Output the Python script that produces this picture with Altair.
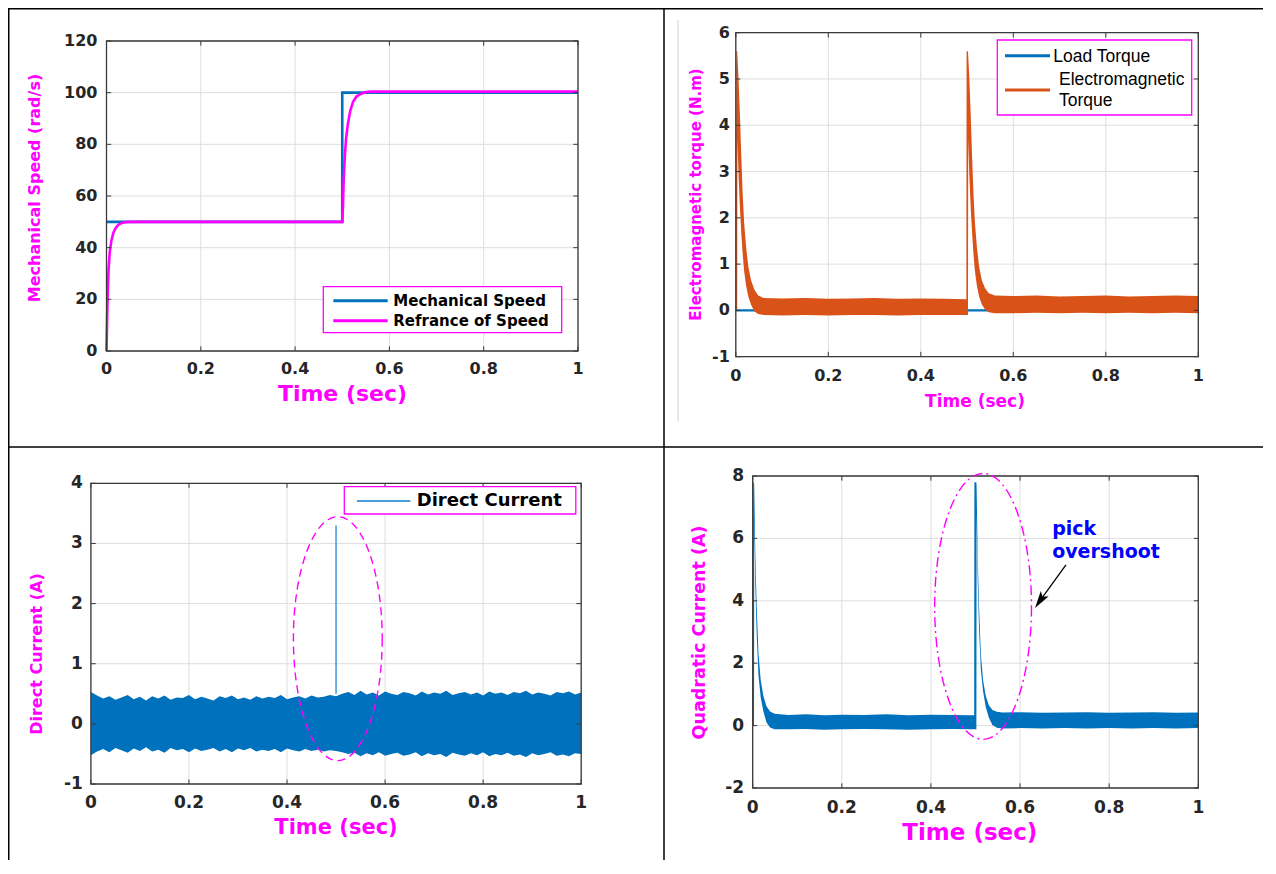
import altair as alt
import pandas as pd

# ---------------------------------------------------------------- canvas
W, H = 1255, 852
FONT = "DejaVu Sans"
LEGFONT = "Liberation Sans"
MAG = "#FF00FF"
BLUE = "#0072BD"
ORANGE = "#D95319"
LIGHTBLUE = "#4C9ED9"
GRID = "#DEDEDE"
FRAME = "#3A3A3A"
LAB = "#262626"
NOTE = "#0000FF"

# ---------------------------------------------------------------- data
time_ticks = [0, 0.2, 0.4, 0.6, 0.8, 1]
time_labels = ["0", "0.2", "0.4", "0.6", "0.8", "1"]

# Panel 1 : speed
p1_ticks = [0, 20, 40, 60, 80, 100, 120]
p1_tick_labels = ["0", "20", "40", "60", "80", "100", "120"]
p1_mech_t = [0.0, 0.5, 0.5, 1.0]
p1_mech_v = [50, 50, 100, 100]
p1_ref_t = [0, 0.0015, 0.003, 0.0045, 0.007, 0.0107, 0.015, 0.02, 0.025, 0.03,
            0.04, 0.05, 0.06, 0.5, 0.5015, 0.503, 0.505, 0.508, 0.512, 0.517,
            0.523, 0.53, 0.54, 0.55, 0.56, 1.0]
p1_ref_v = [0, 14, 25, 32, 38.5, 43, 46, 47.8, 48.8, 49.4,
            49.9, 50, 50, 50, 56, 66, 74, 82, 88, 93,
            96.5, 98.5, 99.6, 100.2, 100.4, 100.4]
p1_labels = ["Mechanical Speed", "Refrance of Speed"]

# Panel 2 : torque
p2_ticks = [-1, 0, 1, 2, 3, 4, 5, 6]
p2_tick_labels = ["-1", "0", "1", "2", "3", "4", "5", "6"]
p2_load_t = [0, 1]
p2_load_v = [0, 0]
p2_t = [0.000, 0.001, 0.003, 0.0035, 0.006, 0.009, 0.012, 0.015, 0.018, 0.022,
        0.027, 0.033, 0.040, 0.048, 0.060, 0.100, 0.150, 0.200, 0.250, 0.300,
        0.350, 0.400, 0.450, 0.4985, 0.499, 0.502, 0.5025, 0.505, 0.508, 0.511,
        0.514, 0.517, 0.521, 0.526, 0.532, 0.539, 0.547, 0.560, 0.600, 0.650,
        0.700, 0.750, 0.800, 0.850, 0.900, 0.950, 1.000]
p2_hi = [0.0, 5.6, 5.6, 5.5, 5.0, 4.2, 3.3, 2.5, 1.9, 1.4,
         0.95, 0.65, 0.45, 0.33, 0.27, 0.26, 0.27, 0.25, 0.26, 0.27,
         0.25, 0.26, 0.25, 0.24, 5.6, 5.6, 5.5, 5.0, 4.2, 3.3,
         2.5, 1.9, 1.4, 0.95, 0.65, 0.48, 0.37, 0.32, 0.31, 0.32,
         0.30, 0.31, 0.32, 0.30, 0.31, 0.32, 0.31]
p2_lo = [0.0, 0.0, 0.0, 3.7, 2.9, 2.2, 1.65, 1.2, 0.85, 0.55,
         0.3, 0.12, -0.02, -0.08, -0.1, -0.11, -0.1, -0.11, -0.1, -0.1,
         -0.11, -0.1, -0.1, -0.1, -0.1, -0.1, 3.7, 2.9, 2.2, 1.65,
         1.2, 0.85, 0.55, 0.3, 0.13, 0.02, -0.04, -0.06, -0.06, -0.05,
         -0.06, -0.05, -0.06, -0.05, -0.06, -0.05, -0.06]
p2_labels = ["Load Torque", "Electromagnetic", "Torque"]

# Panel 3 : direct current (envelope of the noisy signal, sampled every 0.0125 s)
p3_ticks = [-1, 0, 1, 2, 3, 4]
p3_tick_labels = ["-1", "0", "1", "2", "3", "4"]
p3_t = [round(i * 0.0125, 4) for i in range(81)]
p3_hi = [0.53, 0.47, 0.42, 0.46, 0.40, 0.44, 0.48, 0.41, 0.45, 0.39,
         0.46, 0.42, 0.47, 0.40, 0.44, 0.43, 0.48, 0.41, 0.45, 0.42,
         0.39, 0.46, 0.43, 0.47, 0.41, 0.44, 0.40, 0.46, 0.42, 0.45,
         0.43, 0.48, 0.41, 0.44, 0.46, 0.42, 0.47, 0.44, 0.45, 0.48,
         0.46, 0.50, 0.53, 0.48, 0.55, 0.49, 0.52, 0.47, 0.54, 0.50,
         0.48, 0.53, 0.51, 0.47, 0.54, 0.49, 0.52, 0.50, 0.55, 0.48,
         0.51, 0.53, 0.49, 0.52, 0.47, 0.54, 0.50, 0.52, 0.48, 0.53,
         0.51, 0.55, 0.49, 0.52, 0.50, 0.47, 0.53, 0.51, 0.54, 0.49, 0.52]
p3_lo = [-0.52, -0.46, -0.42, -0.47, -0.40, -0.44, -0.48, -0.41, -0.45, -0.39,
         -0.46, -0.43, -0.48, -0.40, -0.44, -0.42, -0.47, -0.41, -0.45, -0.43,
         -0.40, -0.46, -0.42, -0.47, -0.41, -0.44, -0.40, -0.46, -0.43, -0.45,
         -0.42, -0.47, -0.41, -0.44, -0.46, -0.42, -0.45, -0.43, -0.46, -0.44,
         -0.45, -0.47, -0.50, -0.48, -0.54, -0.49, -0.52, -0.47, -0.53, -0.50,
         -0.48, -0.53, -0.51, -0.47, -0.54, -0.49, -0.52, -0.50, -0.55, -0.48,
         -0.51, -0.53, -0.49, -0.52, -0.47, -0.54, -0.50, -0.52, -0.48, -0.53,
         -0.51, -0.55, -0.49, -0.52, -0.50, -0.47, -0.53, -0.51, -0.54, -0.49, -0.50]
p3_spike_t = [0.5]
p3_spike_lo = [0.5]
p3_spike_hi = [3.3]
p3_ring_t = [0.5036]
p3_ring_v = [1.416]
p3_labels = ["Direct Current"]

# Panel 4 : quadratic current
p4_ticks = [-2, 0, 2, 4, 6, 8]
p4_tick_labels = ["-2", "0", "2", "4", "6", "8"]
p4_t = [0, 0.001, 0.003, 0.0035, 0.006, 0.009, 0.013, 0.018, 0.024, 0.031,
        0.039, 0.049, 0.08, 0.12, 0.16, 0.2, 0.25, 0.3, 0.35, 0.4,
        0.45, 0.497, 0.4975, 0.502, 0.5025, 0.505, 0.508, 0.512, 0.517, 0.523,
        0.53, 0.538, 0.548, 0.56, 0.6, 0.65, 0.7, 0.75, 0.8, 0.85,
        0.9, 0.95, 1.0]
p4_hi = [0.0, 7.8, 7.8, 7.6, 5.4, 3.8, 2.3, 1.45, 0.95, 0.62,
         0.45, 0.38, 0.34, 0.36, 0.33, 0.35, 0.34, 0.36, 0.33, 0.35,
         0.34, 0.33, 7.8, 7.8, 7.6, 5.4, 3.8, 2.3, 1.45, 0.95,
         0.65, 0.5, 0.44, 0.42, 0.43, 0.41, 0.42, 0.43, 0.41, 0.42,
         0.43, 0.41, 0.42]
p4_lo = [0, 0, 0, 6.6, 4.4, 2.9, 1.6, 0.9, 0.45, 0.1,
         -0.06, -0.12, -0.12, -0.11, -0.13, -0.12, -0.11, -0.12, -0.13, -0.12,
         -0.11, -0.12, -0.12, -0.12, 6.8, 4.6, 3.1, 1.8, 1.1, 0.6,
         0.25, 0.02, -0.07, -0.09, -0.08, -0.09, -0.08, -0.09, -0.08, -0.09,
         -0.08, -0.09, -0.08]
p4_ring_t = [0.517]
p4_ring_v = [3.82]
p4_note_t = [0.672, 0.672]
p4_note_v = [6.30, 5.56]
p4_note_text = ["pick", "overshoot"]
p4_arrow_t = [0.703]
p4_arrow_v = [5.15]
p4_arrow_t2 = [0.6445]
p4_arrow_v2 = [4.0]

axis_titles = {
    "p1x": "Time (sec)", "p1y": "Mechanical Speed (rad/s)",
    "p2x": "Time (sec)", "p2y": "Electromagnetic torque  (N.m)",
    "p3x": "Time (sec)", "p3y": "Direct Current (A)",
    "p4x": "Time (sec)", "p4y": "Quadratic Current (A)",
}

# ---------------------------------------------------------------- shapes
ELLIPSE = ("M0.364,0 C0.364,0.552 0.201,1 0,1 C-0.201,1 -0.364,0.552 -0.364,0 "
           "C-0.364,-0.552 -0.201,-1 0,-1 C0.201,-1 0.364,-0.552 0.364,0 Z")
ARROWHEAD = "M0,-1 L0.55,1 L0,0.55 L-0.55,1 Z"

one = pd.DataFrame({"k": [0]})


def frame(sx, sy, ydom, yvals, ylabels, lsize, xdy, ydx):
    xdom = [0, 1]
    vdf = pd.DataFrame({"v": time_ticks, "lo": ydom[0], "hi": ydom[1]})
    hdf = pd.DataFrame({"v": yvals, "lo": xdom[0], "hi": xdom[1]})
    vgrid = alt.Chart(vdf).mark_rule(color=GRID, strokeWidth=1).encode(
        x=alt.X("v:Q", scale=sx, axis=None),
        y=alt.Y("lo:Q", scale=sy, axis=None), y2="hi:Q")
    hgrid = alt.Chart(hdf).mark_rule(color=GRID, strokeWidth=1).encode(
        y=alt.Y("v:Q", scale=sy, axis=None),
        x=alt.X("lo:Q", scale=sx, axis=None), x2="hi:Q")
    tlx = 0.01 * (xdom[1] - xdom[0])
    tly = 0.015 * (ydom[1] - ydom[0])
    rows = []
    for v in time_ticks:
        rows.append((v, v, ydom[0], ydom[0] + tly))
        rows.append((v, v, ydom[1], ydom[1] - tly))
    for v in yvals:
        rows.append((xdom[0], xdom[0] + tlx, v, v))
        rows.append((xdom[1], xdom[1] - tlx, v, v))
    tdf = pd.DataFrame(rows, columns=["a", "b", "c", "d"])
    ticks = alt.Chart(tdf).mark_rule(color=FRAME, strokeWidth=1).encode(
        x=alt.X("a:Q", scale=sx, axis=None), x2="b:Q",
        y=alt.Y("c:Q", scale=sy, axis=None), y2="d:Q")
    bdf = pd.DataFrame({"x0": [xdom[0]], "x1": [xdom[1]], "y0": [ydom[0]], "y1": [ydom[1]]})
    box = alt.Chart(bdf).mark_rect(filled=False, color=FRAME, strokeWidth=1.3).encode(
        x=alt.X("x0:Q", scale=sx, axis=None), x2="x1:Q",
        y=alt.Y("y0:Q", scale=sy, axis=None), y2="y1:Q")
    # tick labels placed through the panel's scales
    xl = alt.Chart(pd.DataFrame({"v": time_ticks, "s": time_labels, "b": ydom[0]})).mark_text(
        align="center", baseline="middle", dy=xdy, font=FONT, fontWeight="bold",
        fontSize=lsize, color=LAB).encode(
        x=alt.X("v:Q", scale=sx, axis=None), y=alt.Y("b:Q", scale=sy, axis=None), text="s:N")
    yl = alt.Chart(pd.DataFrame({"v": yvals, "s": ylabels, "b": xdom[0]})).mark_text(
        align="right", baseline="middle", dx=-ydx, font=FONT, fontWeight="bold",
        fontSize=lsize, color=LAB).encode(
        x=alt.X("b:Q", scale=sx, axis=None), y=alt.Y("v:Q", scale=sy, axis=None), text="s:N")
    return [vgrid, hgrid], [box, ticks, xl, yl]


def band(t, hi, lo, sx, sy, color):
    df = pd.DataFrame({"t": t, "hi": hi, "lo": lo})
    return alt.Chart(df).mark_area(color=color, opacity=1, interpolate="linear").encode(
        x=alt.X("t:Q", scale=sx, axis=None),
        y=alt.Y("lo:Q", scale=sy, axis=None), y2="hi:Q")


def line(t, v, sx, sy, color, width):
    df = pd.DataFrame({"t": t, "v": v, "i": list(range(len(t)))})
    return alt.Chart(df).mark_line(color=color, strokeWidth=width).encode(
        x=alt.X("t:Q", scale=sx, axis=None),
        y=alt.Y("v:Q", scale=sy, axis=None), order="i:Q")


def ring(t, v, sx, sy, size, dash):
    df = pd.DataFrame({"t": t, "v": v})
    return alt.Chart(df).mark_point(shape=ELLIPSE, size=size, filled=False, color=MAG,
                                    strokeWidth=1.4, strokeDash=dash, opacity=1).encode(
        x=alt.X("t:Q", scale=sx, axis=None), y=alt.Y("v:Q", scale=sy, axis=None))


# ---------------------------------------------------------------- panel 1
yd1 = [0, 120]
sx1 = alt.Scale(domain=[0, 1], range=[98.5, 570], nice=False, zero=False)
sy1 = alt.Scale(domain=yd1, range=[343, 33], nice=False, zero=False)
under1, over1 = frame(sx1, sy1, yd1, p1_ticks, p1_tick_labels, 16, 18, 9)
panel1 = alt.layer(*under1,
                   line(p1_mech_t, p1_mech_v, sx1, sy1, BLUE, 2.6),
                   line(p1_ref_t, p1_ref_v, sx1, sy1, MAG, 2.6),
                   *over1)

# ---------------------------------------------------------------- panel 2
yd2 = [-1, 6]
sx2 = alt.Scale(domain=[0, 1], range=[727.8, 1190.3], nice=False, zero=False)
sy2 = alt.Scale(domain=yd2, range=[348.7, 24.7], nice=False, zero=False)
under2, over2 = frame(sx2, sy2, yd2, p2_ticks, p2_tick_labels, 16, 19, 6)
panel2 = alt.layer(*under2,
                   line(p2_load_t, p2_load_v, sx2, sy2, BLUE, 2.4),
                   band(p2_t, p2_hi, p2_lo, sx2, sy2, ORANGE),
                   *over2)

# ---------------------------------------------------------------- panel 3
yd3 = [-1, 4]
sx3 = alt.Scale(domain=[0, 1], range=[82.9, 573.2], nice=False, zero=False)
sy3 = alt.Scale(domain=yd3, range=[776, 475.3], nice=False, zero=False)
under3, over3 = frame(sx3, sy3, yd3, p3_ticks, p3_tick_labels, 17, 18.5, 8)
spike3 = alt.Chart(pd.DataFrame({"t": p3_spike_t, "lo": p3_spike_lo, "hi": p3_spike_hi})
                   ).mark_rule(color=LIGHTBLUE, strokeWidth=1.6).encode(
    x=alt.X("t:Q", scale=sx3, axis=None), y=alt.Y("lo:Q", scale=sy3, axis=None), y2="hi:Q")
panel3 = alt.layer(*under3,
                   band(p3_t, p3_hi, p3_lo, sx3, sy3, BLUE),
                   spike3,
                   *over3,
                   ring(p3_ring_t, p3_ring_v, sx3, sy3, 59536, [8, 5]))

# ---------------------------------------------------------------- panel 4
yd4 = [-2, 8]
sx4 = alt.Scale(domain=[0, 1], range=[744.7, 1190.3], nice=False, zero=False)
sy4 = alt.Scale(domain=yd4, range=[780, 468], nice=False, zero=False)
under4, over4 = frame(sx4, sy4, yd4, p4_ticks, p4_tick_labels, 17, 19.5, 8.5)
note4 = alt.Chart(pd.DataFrame({"t": p4_note_t, "v": p4_note_v, "s": p4_note_text})).mark_text(
    align="left", baseline="middle", font=FONT, fontWeight="bold", fontSize=19, color=NOTE).encode(
    x=alt.X("t:Q", scale=sx4, axis=None), y=alt.Y("v:Q", scale=sy4, axis=None), text="s:N")
arrow_df = pd.DataFrame({"t": p4_arrow_t, "v": p4_arrow_v, "t2": p4_arrow_t2, "v2": p4_arrow_v2})
shaft4 = alt.Chart(arrow_df).mark_rule(color="black", strokeWidth=1.3).encode(
    x=alt.X("t:Q", scale=sx4, axis=None), y=alt.Y("v:Q", scale=sy4, axis=None),
    x2="t2:Q", y2="v2:Q")
head4 = alt.Chart(arrow_df).mark_point(shape=ARROWHEAD, size=300, filled=True, color="black",
                                       angle=214, opacity=1).encode(
    x=alt.X("t2:Q", scale=sx4, axis=None), y=alt.Y("v2:Q", scale=sy4, axis=None))
panel4 = alt.layer(*under4,
                   band(p4_t, p4_hi, p4_lo, sx4, sy4, BLUE),
                   *over4,
                   ring(p4_ring_t, p4_ring_v, sx4, sy4, 70756, [10, 4, 2, 4]),
                   note4, shaft4, head4)


# ---------------------------------------------------------------- page furniture
def vrule(x, y0, y1, color, w):
    return alt.Chart(one).mark_rule(color=color, strokeWidth=w).encode(
        x=alt.value(x), y=alt.value(y0), y2=alt.value(y1))


def hrule(y, x0, x1, color, w):
    return alt.Chart(one).mark_rule(color=color, strokeWidth=w).encode(
        y=alt.value(y), x=alt.value(x0), x2=alt.value(x1))


def legbox(x0, y0, x1, y1):
    return alt.Chart(one).mark_rect(fill="white", stroke=MAG, strokeWidth=1.3).encode(
        x=alt.value(x0), x2=alt.value(x1), y=alt.value(y0), y2=alt.value(y1))


def legtext(x, y, s, size, weight, font):
    return alt.Chart(one).mark_text(align="left", baseline="middle", font=font, fontSize=size,
                                    fontWeight=weight, color="black").encode(
        x=alt.value(x), y=alt.value(y), text=alt.value(s))


def title_text(x, y, s, size, angle):
    return alt.Chart(one).mark_text(align="center", baseline="middle", font=FONT, fontSize=size,
                                    fontWeight="bold", color=MAG, angle=angle).encode(
        x=alt.value(x), y=alt.value(y), text=alt.value(s))


deco = [
    vrule(0.75, 0, H, "black", 1.5),
    vrule(656, 0, H, "black", 1.5),
    hrule(0.75, 0, W, "black", 1.5),
    hrule(439, 0, W, "black", 1.5),
    vrule(670, 12, 414, "#C5D3E2", 1),
    # axis titles
    title_text(334.5, 386, axis_titles["p1x"], 22, 0),
    title_text(27, 180, axis_titles["p1y"], 16, 270),
    title_text(967, 393.5, axis_titles["p2x"], 17, 0),
    title_text(688, 186.5, axis_titles["p2y"], 15, 270),
    title_text(328, 820, axis_titles["p3x"], 21, 0),
    title_text(28.8, 646, axis_titles["p3y"], 16, 270),
    title_text(961.8, 824.5, axis_titles["p4x"], 23, 0),
    title_text(692, 624.5, axis_titles["p4y"], 17.5, 270),
    # panel 1 legend
    legbox(315.3, 278.7, 553.7, 324.7),
    hrule(292.7, 325.3, 379.7, BLUE, 3),
    hrule(312.7, 325.3, 379.7, MAG, 3),
    legtext(385.3, 292.7, p1_labels[0], 15, "bold", FONT),
    legtext(385.3, 312.7, p1_labels[1], 15, "bold", FONT),
    # panel 2 legend
    legbox(989.3, 32, 1183.7, 107),
    hrule(47.7, 997, 1042, BLUE, 3),
    hrule(82, 997, 1042, ORANGE, 3),
    legtext(1045.3, 48.7, p2_labels[0], 17.5, "normal", LEGFONT),
    legtext(1051, 72, p2_labels[1], 17.5, "normal", LEGFONT),
    legtext(1051, 93, p2_labels[2], 17.5, "normal", LEGFONT),
    # panel 3 legend
    legbox(336.3, 478.7, 567.8, 506),
    hrule(493, 349, 402.4, LIGHTBLUE, 2),
    legtext(408.7, 493, p3_labels[0], 18, "bold", FONT),
]

chart = alt.layer(panel1, panel2, panel3, panel4, *deco).resolve_scale(
    x="independent", y="independent"
).properties(
    width=W, height=H, padding=0, autosize=alt.AutoSizeParams(type="none")
).configure_view(strokeWidth=0)

chart.save("out.html", embed_options={"renderer": "svg", "actions": False})
